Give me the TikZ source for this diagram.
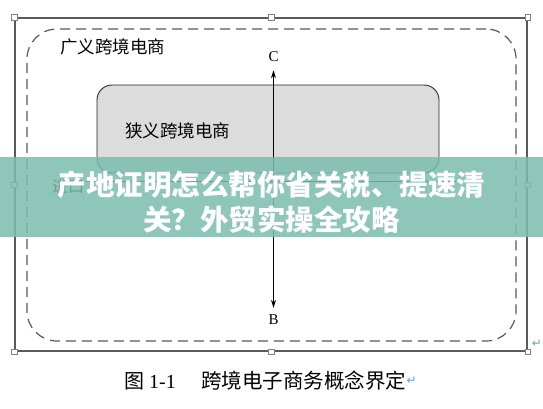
\documentclass[tikz,border=0pt]{standalone}
\usepackage{fontspec}
\setmainfont{Liberation Serif}
\newfontfamily\cjk{Noto Sans CJK SC}
\newfontfamily\symf{DejaVu Sans}
\usetikzlibrary{arrows.meta}
\definecolor{framegray}{RGB}{90,90,90}
\definecolor{boxfill}{RGB}{220,220,220}
\definecolor{bannerteal}{RGB}{124,189,175}
\definecolor{markblue}{RGB}{100,160,220}
\begin{document}
\begin{tikzpicture}[x=1pt,y=-1pt,
  frame/.style={draw=framegray,line width=1.1pt,minimum width=512pt,minimum height=333pt,inner sep=0pt},
  handle/.style={draw=gray,fill=white,line width=0.5pt,minimum size=5.5pt,inner sep=0pt},
  broad/.style={draw=framegray,line width=1.2pt,dash pattern=on 10pt off 6pt,rounded corners=30pt,minimum width=489pt,minimum height=312pt,inner sep=0pt},
  narrow/.style={draw=black!85,fill=boxfill,line width=0.9pt,rounded corners=15pt,minimum width=342pt,minimum height=88pt,inner sep=0pt},
  cjklabel/.style={font=\cjk\fontsize{17.5pt}{20pt}\selectfont,inner sep=0pt},
  axlabel/.style={font=\fontsize{15pt}{17pt}\selectfont,inner sep=0pt},
  arr/.style={draw=black,line width=0.9pt,{Stealth[length=8pt,width=5pt]}-{Stealth[length=8pt,width=5pt]}},
  banner/.style={fill=bannerteal,fill opacity=0.85,draw=none,minimum width=543pt,minimum height=80pt,inner sep=0pt},
  bannertext/.style={text=white,font=\cjk\bfseries\fontsize{28.5pt}{35pt}\selectfont,inner sep=0pt},
  caption/.style={font=\fontsize{20pt}{24pt}\selectfont,inner sep=0pt},
  pmark/.style={text=markblue,font=\symf\fontsize{12pt}{14pt}\selectfont,inner sep=0pt}
]
\useasboundingbox (0,0) rectangle (543,408);
\fill[white] (0,0) rectangle (543,408);

% outer frame with selection handles
\node[frame] (fr) at (271,184.5) {};
\foreach \a/\n in {north west/h1,north/h2,north east/h3,east/h4,south east/h5,south/h6,south west/h7,west/h8}
  \node[handle] (\n) at (fr.\a) {};

% broad (dashed) region
\node[broad] (broad) at (271.5,185) {};
\node[cjklabel,anchor=west] (broadlbl) at (60,47) {广义跨境电商};

% narrow region
\node[narrow] (narrow) at (268,129) {};
\node[cjklabel,anchor=west] (narrowlbl) at (125,131) {狭义跨境电商};

% axes
\node[axlabel] (C) at (273.5,57) {C};
\node[axlabel] (B) at (273.5,320) {B};
\draw[arr,shorten <=7pt,shorten >=8pt] (B) -- (C);

\node[cjklabel,anchor=west,font=\cjk\fontsize{16pt}{18pt}\selectfont] (imp) at (52,186) {进口};
\coordinate (hend) at (460,181);
\draw[draw=black,line width=0.9pt] (imp.east |- hend) ++(2,0) -- (hend);

% paragraph marks
\node[pmark] (pm1) at (537,344) {↵};

% caption
\node[caption,anchor=west] (figno) at (124,381) {{\cjk 图} 1-1};
\node[caption,anchor=west,font=\cjk\fontsize{20.5pt}{24pt}\selectfont] (figtitle) at (201,381) {跨境电子商务概念界定};
\node[pmark,anchor=west] (pm2) at (figtitle.east) {↵};

% overlay banner
\node[banner] (ban) at (271.5,197) {};
\node[bannertext] (bt1) at (271.5,185) {产地证明怎么帮你省关税、提速清};
\node[bannertext] (bt2) at (271.5,220) {关？外贸实操全攻略};
\end{tikzpicture}
\end{document}
